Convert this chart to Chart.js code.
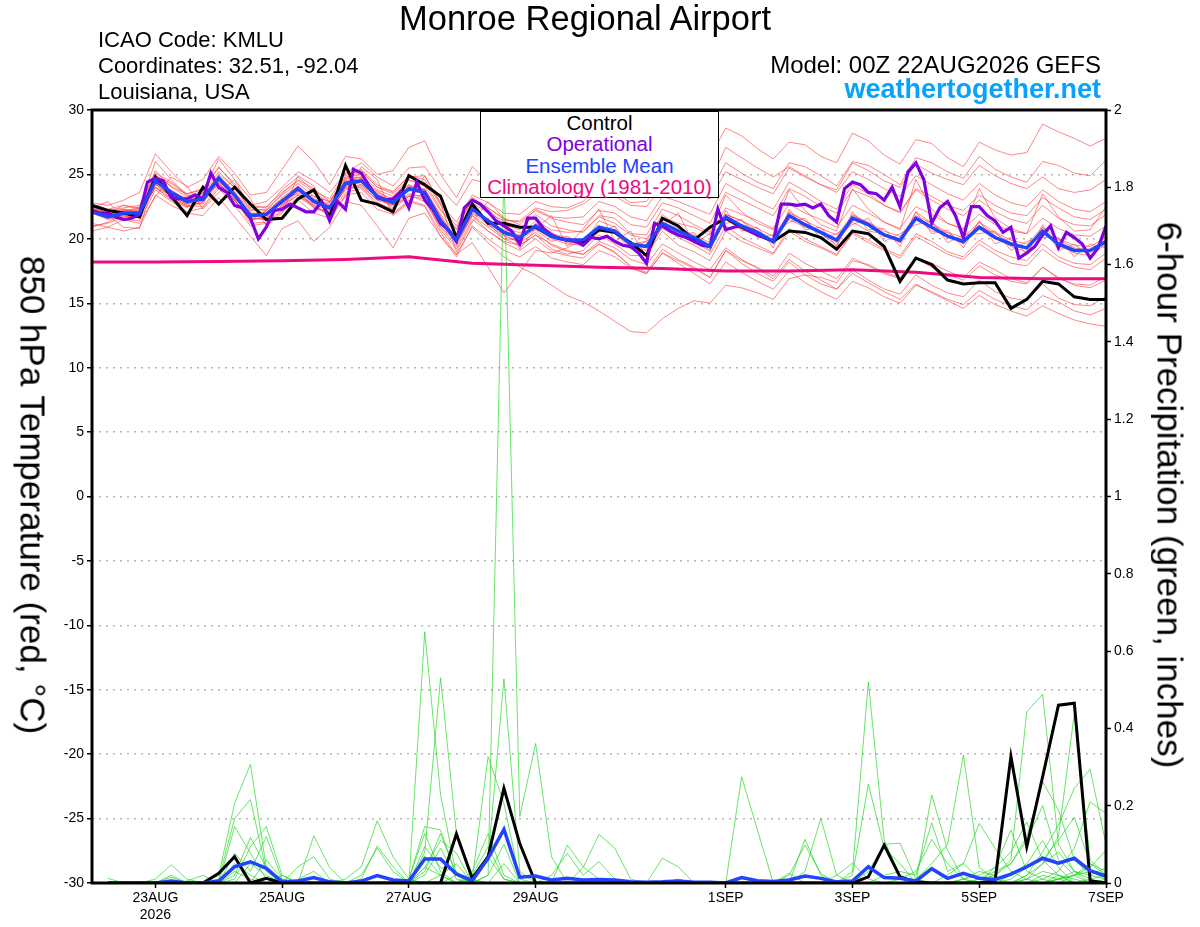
<!DOCTYPE html>
<html>
<head>
<meta charset="utf-8">
<title>Monroe Regional Airport</title>
<script src="https://cdn.jsdelivr.net/npm/chart.js@4.4.1/dist/chart.umd.min.js"></script>
<style>
  body { margin: 0; background: #fff; font-family: "Liberation Sans", Arial, sans-serif; }
  #page { position: relative; width: 1200px; height: 927px; overflow: hidden; }
  #page canvas { position: absolute; left: 0; top: 0; }
  .txt { position: absolute; white-space: nowrap; line-height: 1; color: #000; }
  .axis-title { position: absolute; white-space: nowrap; line-height: 1; font-size: 35px;
                transform: translate(-50%, -50%) rotate(90deg); }
  #legend { position: absolute; left: 480px; top: 111px; width: 237px; height: 85px;
            border: 1.5px solid #000; background: #fff; text-align: center;
            font-size: 20.5px; line-height: 21.3px; }
</style>
</head>
<body>
<div id="page">
  <canvas id="chart" width="1200" height="927"></canvas>

  <div class="txt" style="left:0;width:1170px;text-align:center;top:1px;font-size:34.5px;">Monroe Regional Airport</div>
  <div class="txt" style="left:98px;top:29px;font-size:22px;">ICAO Code: KMLU</div>
  <div class="txt" style="left:98px;top:55px;font-size:22px;">Coordinates: 32.51, -92.04</div>
  <div class="txt" style="left:98px;top:81px;font-size:22px;">Louisiana, USA</div>
  <div class="txt" style="right:99px;top:53px;font-size:24px;">Model: 00Z 22AUG2026 GEFS</div>
  <div class="txt" style="right:99px;top:76px;font-size:27px;font-weight:bold;color:#05a2ff;">weathertogether.net</div>

  <div class="axis-title" style="left:33px;top:495px;">850 hPa Temperature (red, °C)</div>
  <div class="axis-title" style="left:1170px;top:495px;">6-hour Precipitation (green, inches)</div>

  <div id="legend">
    <div style="color:#000">Control</div>
    <div style="color:#8000e0">Operational</div>
    <div style="color:#2244ff">Ensemble Mean</div>
    <div style="color:#ee0a80">Climatology (1981-2010)</div>
  </div>
</div>

<script>
// hours since 22AUG2026 00Z
const tickHours = [24, 72, 120, 168, 240, 288, 336, 384];
const tickLabels = [['23AUG', '2026'], '25AUG', '27AUG', '29AUG', '1SEP', '3SEP', '5SEP', '7SEP'];

// 850 hPa temperature, 6-hourly from 00Z 22AUG
const controlTemp = [
  22.6,22.2,22.0,21.7,24.8,23.3,21.8,24.0,22.7,24.0,
  22.7,21.5,21.6,23.1,23.8,21.7,25.7,23.0,22.7,22.1,
  24.9,24.2,23.3,20.1,22.7,21.2,21.2,20.9,20.9,20.2,
  19.9,19.8,20.7,20.5,19.7,18.7,21.6,21.0,19.9,20.9,
  21.6,20.9,20.3,19.8,20.6,20.5,20.1,19.2,20.6,20.4,
  19.4,16.7,18.5,18.0,16.8,16.5,16.6,16.6,14.6,15.3,
  16.7,16.5,15.5,15.3,15.3];
const meanTemp = [
  22.1,21.7,22.0,22.0,24.5,23.6,22.9,23.1,24.7,23.4,
  21.8,21.9,22.9,23.9,22.9,22.4,24.3,24.5,23.3,22.8,
  23.9,23.6,21.4,19.9,22.3,21.4,20.5,20.1,21.0,20.2,
  19.9,19.9,20.9,20.6,19.6,19.4,21.2,20.6,20.1,19.4,
  21.7,21.0,20.5,19.8,21.8,21.1,20.5,19.9,21.6,21.1,
  20.3,19.9,21.6,20.9,20.2,19.8,20.9,20.1,19.6,19.3,
  20.6,19.6,19.1,19.1,19.8];
// operational run, 3-hourly
const operTemp = [
  22.2,22.0,22.0,21.7,21.5,21.6,21.9,24.4,24.7,24.5,
  23.2,23.1,23.1,23.4,23.1,25.1,24.0,23.6,22.6,22.4,
  21.6,20.0,20.9,22.2,22.3,22.7,22.4,22.1,22.1,22.9,
  21.4,22.9,22.3,25.4,25.1,24.1,23.2,23.0,23.1,23.7,
  22.4,24.4,23.0,22.3,21.2,20.7,19.8,22.4,23.0,22.7,
  22.1,21.4,21.0,20.6,19.6,21.6,21.6,20.8,20.3,20.0,
  19.9,19.8,19.5,20.1,20.0,20.2,19.8,19.5,19.4,18.9,
  18.1,21.2,21.0,20.6,20.3,20.1,19.8,19.5,19.4,22.3,
  20.7,20.9,21.0,20.6,20.3,20.1,19.8,22.7,22.7,22.6,
  22.7,22.4,22.7,21.8,21.3,23.9,24.4,24.2,23.6,23.5,
  23.0,24.0,22.5,25.2,25.9,24.6,21.2,22.4,22.9,21.8,
  20.1,22.5,22.5,21.8,21.4,20.5,20.9,18.5,18.9,19.4,
  20.3,21.0,19.3,20.5,20.1,19.6,18.5,19.3,21.0];
// climatology, daily
const climTemp = [18.2,18.2,18.25,18.3,18.4,18.6,18.1,17.95,17.8,17.7,17.5,17.5,17.6,17.4,17.0,16.9,16.9];

// ensemble members, 6-hourly temperature
const t01 = [22.5,22.0,22.6,22.3,25.3,24.0,23.5,23.8,25.6,24.1,22.6,22.9,24.0,25.2,24.5,23.6,25.1,25.9,24.8,24.1,25.5,25.6,23.9,22.6,24.6,24.3,23.6,24.0,25.2,24.8,25.0,25.6,26.8,26.3,25.7,25.2,27.0,27.1,26.9,26.3,28.6,28.0,27.0,26.2,27.5,27.3,26.4,25.9,28.2,27.6,26.5,25.8,27.7,27.4,26.3,25.6,27.5,26.9,26.5,26.7,28.9,28.3,27.8,27.2,27.8];
const t02 = [22.3,21.9,22.1,22.5,24.9,24.3,23.4,23.3,25.0,24.0,22.3,22.2,23.5,24.6,23.9,22.9,24.6,25.3,24.0,23.7,24.8,24.9,22.7,21.3,23.4,22.8,22.0,21.9,22.9,22.5,22.4,22.9,24.1,23.6,22.8,22.9,24.6,24.5,24.0,23.6,25.9,25.1,24.4,23.9,25.9,25.6,24.9,24.1,26.0,25.7,25.0,24.2,26.3,25.9,25.2,24.7,26.4,25.4,24.8,24.4,26.0,25.7,25.1,24.9,26.1];
const t03 = [21.0,21.2,21.7,21.9,24.0,23.1,22.6,22.5,24.1,23.1,21.2,21.3,22.2,23.2,22.6,21.9,23.6,23.9,22.6,22.0,23.0,22.6,20.5,18.8,20.9,19.7,18.6,17.8,17.2,16.4,15.6,15.1,14.4,13.6,12.8,12.7,13.8,14.6,15.2,15.0,16.4,16.2,15.8,15.3,16.9,17.2,17.0,16.6,18.3,18.0,17.4,17.0,18.5,18.1,17.5,17.0,18.2,17.6,16.9,16.6,17.8,17.0,16.4,16.2,16.8];
const t04 = [22.0,21.6,21.8,21.7,24.2,23.4,22.5,22.9,24.4,23.0,21.6,21.5,22.6,23.6,22.5,22.0,24.0,24.1,23.0,22.6,23.5,23.2,21.0,19.6,21.8,20.9,20.0,19.5,20.3,19.6,19.1,18.8,19.8,19.3,18.4,18.0,19.6,18.9,18.2,17.6,19.3,18.4,17.7,16.9,18.4,17.5,16.8,16.1,17.3,16.6,15.9,15.3,16.5,15.8,15.2,14.6,15.6,14.9,14.4,14.0,14.8,14.2,13.7,13.4,13.2];
const t05 = [22.4,21.9,22.2,22.1,24.6,23.5,22.7,23.4,24.9,23.6,21.9,22.0,23.2,24.1,23.0,22.2,24.7,24.8,23.4,22.9,24.1,23.8,21.7,20.1,22.5,21.3,20.3,19.7,20.5,19.5,19.0,18.8,19.6,19.0,17.8,17.3,18.9,18.1,17.3,16.5,18.2,17.4,16.7,16.1,17.5,16.6,15.9,15.3,16.7,16.2,15.5,15.0,16.4,15.9,15.3,14.9,16.0,15.3,14.8,14.5,15.6,15.1,14.4,14.1,14.6];
const t06 = [22.6,22.2,22.4,22.6,25.1,24.4,23.5,23.9,25.5,24.3,22.6,22.4,23.8,24.8,23.7,23.1,25.1,25.2,24.0,23.5,24.6,24.1,22.2,20.7,23.1,22.4,21.5,21.3,22.2,21.6,21.3,21.1,22.2,22.0,21.1,20.9,22.8,22.4,21.8,21.2,23.6,23.0,22.4,21.8,23.9,23.3,22.5,22.0,23.8,23.3,22.6,22.1,23.9,23.3,22.6,22.2,23.4,22.6,22.0,21.8,23.2,22.4,21.7,21.5,22.3];
const t07 = [22.4,22.9,21.5,21.2,23.3,24.8,24.1,22.3,23.6,24.6,23.1,21.0,22.0,24.9,24.1,21.5,23.3,25.6,24.6,21.8,22.8,24.9,22.8,19.0,21.3,22.9,21.6,19.2,20.8,21.8,19.4,20.8,22.3,19.8,20.6,18.6,21.0,22.0,19.6,20.4,21.2,21.5,20.1,20.3,21.3,21.6,20.0,20.4,21.1,21.6,19.8,20.4,21.1,21.4,19.7,20.3,20.4,20.6,19.1,19.8,20.1,20.1,18.6,19.6,19.3];
const t08 = [22.3,21.8,20.9,20.8,24.7,23.2,22.7,23.6,24.4,23.0,21.4,22.2,23.1,23.5,22.7,22.8,24.5,24.2,23.0,23.2,24.2,23.3,21.1,20.3,22.6,21.0,20.7,20.5,20.7,19.8,20.2,19.5,20.5,21.0,19.3,19.8,20.8,20.2,20.5,19.0,22.2,20.6,20.9,19.3,22.3,20.7,20.9,19.4,22.1,20.7,20.8,19.4,22.1,20.4,20.7,19.3,21.4,19.6,20.1,18.8,21.1,19.1,19.6,18.6,20.3];
const t09 = [20.6,20.9,21.5,21.4,23.8,22.9,22.1,22.4,23.9,22.6,21.0,21.2,22.1,23.0,22.0,21.6,23.4,23.6,22.3,21.9,22.9,22.5,20.2,18.6,21.0,20.0,19.1,18.6,19.4,18.5,18.2,18.0,19.1,18.6,17.7,17.3,18.9,18.3,17.7,17.0,19.1,18.3,17.8,17.1,18.9,18.1,17.5,16.9,18.5,17.9,17.3,16.9,18.5,17.8,17.2,16.8,17.9,17.2,16.7,16.5,17.8,16.9,16.5,16.4,17.1];
const t10 = [22.8,22.6,23.0,23.6,26.6,25.2,24.0,24.6,26.4,25.1,23.4,23.6,25.4,27.2,26.0,24.2,26.4,26.2,25.0,25.3,27.1,27.6,25.0,23.2,25.6,24.4,23.7,23.5,24.6,24.0,23.8,24.3,25.4,24.9,24.1,24.0,25.6,25.2,24.6,24.4,27.1,26.3,25.5,24.8,25.6,24.9,24.2,23.6,25.2,24.6,23.9,23.3,24.9,24.2,23.5,23.0,24.3,23.4,22.8,22.5,23.8,22.9,22.3,22.1,22.9];
const t11 = [22.0,21.7,22.2,21.9,24.4,23.8,23.0,23.0,24.6,23.1,21.9,22.1,22.7,23.7,23.3,22.6,24.0,24.7,23.7,22.9,23.7,23.9,21.8,19.9,22.2,21.2,20.0,19.9,21.2,20.5,19.7,19.6,21.4,20.9,19.6,19.8,21.9,20.9,19.7,19.1,21.9,21.4,20.6,19.6,22.1,21.4,20.4,19.5,21.9,21.2,20.4,19.7,22.1,21.2,20.3,19.6,21.3,20.2,19.4,19.0,20.9,19.5,18.9,18.7,19.6];
const t12 = [20.9,21.3,21.9,22.3,24.3,23.1,22.4,23.3,24.2,23.2,22.0,21.4,22.6,23.4,22.6,22.3,23.8,24.2,23.3,22.4,23.4,22.9,20.9,19.4,21.8,20.6,19.8,19.5,20.3,19.2,18.8,19.1,20.3,19.6,18.7,18.7,20.6,19.5,19.0,18.3,20.6,19.8,19.3,18.8,20.6,19.8,19.3,18.7,20.4,19.7,19.1,18.5,20.2,19.5,18.8,18.4,19.6,18.8,18.1,17.9,19.2,18.3,17.8,17.6,18.5];
const t13 = [22.5,22.1,22.3,22.2,24.9,24.1,23.2,23.5,25.2,24.0,22.2,22.3,23.4,24.3,23.3,22.9,24.8,25.0,23.8,23.3,24.5,24.4,22.3,20.8,23.2,22.4,21.6,21.1,22.3,21.7,21.6,21.7,22.9,22.5,21.7,21.4,23.3,22.9,22.4,21.9,24.3,23.6,22.9,22.3,24.4,23.7,22.9,22.3,24.2,23.5,22.6,22.0,23.8,23.0,22.3,21.8,23.0,22.1,21.5,21.2,22.6,21.6,21.1,21.0,21.9];
const t14 = [22.2,21.8,21.9,22.0,24.0,23.4,22.8,22.7,24.8,23.5,21.5,21.7,23.0,23.8,22.4,21.9,24.1,24.6,23.1,22.6,23.3,23.4,21.2,19.7,21.9,21.6,20.6,20.3,21.4,20.7,20.5,20.6,21.7,21.2,20.3,20.0,21.7,21.2,20.9,20.3,22.4,21.9,21.4,20.8,22.7,22.0,21.5,20.9,22.6,22.0,21.3,20.8,22.5,21.9,21.2,20.8,21.9,21.1,20.6,20.4,21.6,20.8,20.3,20.2,21.0];
const t15 = [21.2,20.9,20.6,20.9,23.4,22.6,22.0,21.8,23.2,21.7,20.2,18.7,20.8,21.4,19.8,20.9,22.9,22.6,21.0,19.3,21.6,22.0,20.2,18.8,19.7,17.8,15.8,17.4,19.1,18.9,19.3,20.0,21.0,20.4,19.2,19.5,21.3,20.6,19.9,19.6,21.5,20.7,20.3,19.9,21.5,20.9,20.6,19.7,21.3,20.6,20.4,19.7,21.7,20.6,20.5,19.6,21.0,20.4,19.7,19.2,20.5,19.9,19.3,19.1,19.7];
const t16 = [22.4,22.0,22.0,22.4,24.7,23.7,23.1,23.2,24.6,23.5,21.9,21.9,23.1,24.0,23.1,22.5,24.4,24.7,23.6,23.1,24.2,23.8,21.9,20.4,22.8,22.0,21.4,21.4,22.4,22.1,22.2,22.7,23.6,23.3,22.6,22.5,24.1,23.9,23.6,23.1,25.2,24.6,24.0,23.5,25.5,24.8,24.2,23.8,25.9,25.3,24.5,24.0,25.8,25.1,24.6,24.2,25.7,24.9,24.3,23.9,24.8,23.9,23.6,23.8,24.6];
const t17 = [22.1,21.7,21.8,22.1,24.3,23.5,22.8,22.9,24.5,23.3,21.7,21.8,22.8,23.8,22.8,22.3,24.2,24.4,23.2,22.7,23.8,23.5,21.2,19.7,22.0,21.1,20.2,19.8,20.8,20.0,19.6,19.5,20.6,20.4,19.4,19.1,20.9,20.1,19.5,18.8,21.0,20.1,19.5,18.9,20.8,20.0,19.4,18.8,20.5,19.9,19.2,18.7,20.4,19.8,19.0,18.6,19.9,19.1,18.6,18.3,19.6,18.6,18.1,18.0,18.9];
const t18 = [22.7,22.3,22.6,22.4,26.0,24.6,23.3,23.7,26.2,24.6,22.4,22.5,23.6,24.5,23.6,22.8,24.9,25.4,24.2,23.6,24.9,24.6,22.6,21.0,23.0,22.3,21.1,20.7,21.9,21.0,20.7,20.5,21.8,21.6,20.4,20.3,22.3,21.8,21.1,20.5,23.4,22.1,21.2,20.7,23.8,22.2,21.1,20.6,23.9,22.3,21.3,20.7,24.6,22.3,21.2,20.7,23.9,21.6,20.8,20.4,23.5,21.7,20.6,20.7,22.5];
const t19 = [22.0,21.5,21.7,21.8,24.0,23.0,22.5,22.8,24.3,23.0,21.5,21.6,22.5,23.4,22.4,22.1,23.9,24.0,22.8,22.3,23.3,23.1,20.7,19.2,21.5,20.6,19.7,19.1,20.0,19.0,18.7,18.5,19.6,18.9,17.9,17.4,19.2,18.4,17.8,17.0,19.1,18.1,17.3,16.7,18.2,17.2,16.5,16.1,17.6,16.8,16.1,15.7,17.2,16.4,15.8,15.5,16.8,15.9,15.4,15.2,16.5,15.4,14.9,14.8,15.5];
const t20 = [22.3,21.9,22.3,22.0,24.8,23.7,22.6,23.2,24.9,23.7,22.1,21.6,22.9,24.1,23.1,22.6,24.5,24.8,23.5,22.9,24.0,23.8,21.6,20.0,22.4,21.3,20.3,20.2,21.1,20.4,20.1,19.8,20.9,20.7,19.7,19.5,21.3,20.8,20.3,19.7,21.9,21.4,20.8,20.2,22.0,21.4,20.8,20.3,21.8,21.3,20.6,20.2,21.8,21.2,20.5,20.1,21.3,20.5,19.9,19.6,20.9,20.0,19.5,19.4,20.1];
const tempMembers = [t01,t02,t03,t04,t05,t06,t07,t08,t09,t10,t11,t12,t13,t14,t15,t16,t17,t18,t19,t20];

// 6-hour precipitation (inches), periods ending 06Z 22AUG .. 00Z 7SEP
const controlPrecip = [
  0,0,0,0,0,0,0,.025,.068,0,
  .012,0,0,0,0,0,0,0,0,0,
  0,0,.127,.012,.068,.245,.102,0,0,0,
  0,0,0,0,0,0,0,0,0,0,
  0,0,0,0,0,0,0,0,.016,.098,
  .016,.003,0,0,0,0,.006,.327,.094,.275,
  .46,.465,.006,0];
const meanPrecip = [
  0,0,0,0,.005,0,0,.005,.042,.055,
  .038,.003,.005,.014,.003,0,.005,.019,.008,.005,
  .062,.062,.023,.006,.064,.139,.015,.018,.008,.012,
  .008,.009,.008,.003,.002,.003,.005,.002,.002,0,
  .014,.006,.004,.008,.018,.012,.003,.005,.042,.014,
  .012,.005,.037,.012,.025,.012,.009,.023,.042,.064,
  .051,.064,.032,.018];
const p01 = [.012,0,0,0,0,0,0,0, 0,0,0,0,0,0,0,0, 0,0,0,0,.03,.128,.02,0, 0,0,0,0,0,0,0,0, 0,0,0,0,0,0,0,0, 0,0,0,0,0,0,0,0, 0,0,0,0,0,0,0,.01, .02,.06,.443,.488,.1,.03,.01,0];
const p02 = [0,0,0,.01,.047,.01,0,0, 0,0,0,0,0,.122,.04,0, 0,0,0,0,0,0,0,0, 0,0,0,0,0,.098,.042,.01, 0,0,0,0,0,0,0,0, 0,0,0,0,0,0,0,0, 0,0,0,0,0,0,.01,.02, .04,.08,.158,.06,.02,0,.01,.02];
const p03 = [0,0,0,0,.02,0,0,0, 0,0,0,0,0,0,0,0, .02,.09,.03,0,0,0,0,.008, 0,0,0,0,0,0,.04,.126, .09,.01,0,0,0,0,0,0, 0,0,0,0,0,0,0,0, 0,0,0,0,0,0,0,.01, .03,.05,.11,.2,.06,.02,0,0];
const p04 = [0,0,0,0,.015,0,0,0, 0,0,0,0,.01,.03,0,0, 0,0,0,0,0,0,0,0, 0,0,0,0,0,0,0,0, 0,0,0,.064,.042,0,0,0, 0,0,0,0,0,0,0,0, 0,0,0,0,0,0,.01,.03, .02,.05,.12,.262,.189,.06,.02,.01];
const p05 = [0,0,0,0,0,.005,.02,0, 0,0,0,0,0,0,0,0, 0,0,0,0,0,0,0,.03, .128,.02,0,0,0,0,0,0, 0,0,0,0,0,0,0,0, .275,.137,0,0,0,0,0,0, 0,0,0,0,0,0,0,0, 0,.02,.05,.11,.04,0,0,0];
const p06 = [0,0,0,0,0,0,0,.02, .206,.307,.04,0,0,0,0,0, 0,0,0,0,.65,.228,.02,0, 0,0,0,0,0,0,0,0, 0,0,0,0,0,0,0,0, 0,0,0,.025,0,0,0,0, 0,0,0,0,0,0,0,0, 0,.01,.04,.06,.111,.17,.05,.02];
const p07 = [0,0,0,0,0,0,0,.01, .167,.216,.03,0,0,0,0,0, 0,0,0,0,.094,.04,.03,0, 0,0,0,0,0,0,0,0, 0,0,0,0,0,0,0,0, 0,0,0,0,.113,.02,0,0, 0,0,0,0,0,0,0,0, 0,0,.02,.05,.08,.03,0,0];
const p08 = [0,0,0,0,0,0,0,0, .146,.077,.01,0,0,0,0,0, 0,0,0,0,0,0,.02,.01, .327,.206,.01,0,0,0,0,0, 0,0,0,0,0,0,0,0, 0,0,0,.02,.098,.025,0,0, 0,0,0,0,0,0,0,0, 0,0,0,.02,.01,0,0,0];
const p09 = [0,0,0,0,0,0,0,0, .077,.03,.12,.01,0,0,0,0, 0,0,0,0,.04,.11,.077,0, 0,0,0,0,0,0,0,0, 0,0,0,0,0,0,0,0, 0,0,0,0,.03,.167,.02,0, 0,0,0,0,0,0,0,0, 0,0,.01,.05,.12,.439,.06,.02];
const p10 = [0,0,0,0,0,0,0,0, .05,.02,0,0,0,0,0,0, 0,0,0,0,.04,.02,0,0, 0,.05,0,0,0,0,0,0, 0,0,0,0,0,0,0,0, 0,0,0,0,0,0,.02,.051, .01,0,0,0,0,0,0,0, 0,0,.02,.08,.15,.245,.294,.1];
const p11 = [0,0,0,0,0,0,0,0, .03,.01,0,.02,0,0,0,0, 0,0,0,0,0,0,0,.02, .094,.01,0,0,0,0,0,0, 0,0,0,0,0,0,0,0, 0,0,0,0,0,0,0,.03, .52,.111,.02,0,0,0,0,0, 0,0,0,.01,.03,.09,.21,.18];
const p12 = [0,0,0,0,0,0,0,0, .02,.118,.04,0,0,0,0,0, 0,0,0,0,.08,.531,.128,.01, 0,0,0,0,0,0,0,0, 0,0,0,0,0,0,0,0, 0,0,0,0,0,0,0,.02, .256,.09,.05,0,0,0,0,0, 0,0,0,0,.01,.02,.05,.03];
const p13 = [0,0,0,0,0,0,0,0, .01,.094,.146,.02,0,0,0,0, 0,0,0,.01,.128,.03,0,0, 0,0,0,0,0,0,0,0, 0,0,0,0,0,0,0,0, 0,0,0,0,0,0,0,0, .03,.1,.103,.01,0,0,0,0, 0,0,0,0,.01,.02,.04,.085];
const p14 = [0,0,0,0,0,0,0,0, 0,.05,.02,0,0,0,0,0, 0,0,0,0,.02,.09,.01,0, .02,.1,0,0,0,0,0,0, 0,0,0,0,0,0,0,0, 0,0,0,0,0,0,0,0, 0,0,0,0,.228,.085,.01,0, 0,0,0,0,.01,.03,.02,.04];
const p15 = [0,0,0,0,0,0,0,0, 0,0,.06,.01,0,0,0,0, 0,0,0,0,0,.02,.05,0, .02,1.85,.172,.361,.068,0,0,0, 0,0,0,0,0,0,0,0, 0,0,0,0,0,0,0,0, 0,0,0,0,0,0,0,0, 0,0,0,0,.02,.01,0,0];
const p16 = [0,0,0,0,0,0,0,0, 0,0,0,0,.042,.068,.01,0, 0,0,0,0,0,0,0,.01, .06,.528,.03,0,0,0,0,0, 0,0,0,0,0,0,0,0, 0,0,0,0,0,0,0,0, 0,.02,.03,.02,.156,.03,.051,.01, 0,0,0,0,0,0,0,0];
const p17 = [0,0,0,0,0,0,0,0, 0,0,0,0,0,0,0,.01, .042,.161,.068,.01,0,0,0,0, 0,0,0,0,0,0,0,0, 0,0,0,0,0,0,0,0, 0,0,0,0,0,0,0,0, 0,0,.01,.03,.113,.05,.01,0, 0,0,.01,.03,.02,0,0,0];
const p18 = [0,0,0,0,0,0,0,0, 0,0,0,0,0,0,0,0, .01,.096,.042,0,0,0,0,0, 0,0,0,0,.02,.077,.02,.055, .01,0,0,0,0,0,0,0, 0,0,0,0,0,0,0,0, 0,0,0,.01,.05,.1,.331,.04, .01,0,0,0,0,0,0,0];
const p19 = [0,0,0,0,0,0,0,0, 0,0,0,0,0,0,0,0, 0,0,0,.01,.146,.137,.02,0, 0,0,0,0,0,0,0,0, 0,0,0,0,0,0,0,0, 0,0,0,0,0,0,0,0, 0,0,0,0,0,.02,.05,.154, .09,.03,.01,0,0,.02,.03,.01];
const p20 = [0,0,0,0,0,0,0,0, 0,0,0,0,0,0,0,0, 0,0,0,0,.07,.02,0,0, .068,.01,0,0,0,0,0,0, 0,0,0,0,.01,0,0,0, 0,0,0,0,0,0,0,0, 0,0,0,0,0,0,0,0, .042,.137,.03,.01,0,0,0,.01];
const precipMembers = [p01,p02,p03,p04,p05,p06,p07,p08,p09,p10,p11,p12,p13,p14,p15,p16,p17,p18,p19,p20];

const BLACK = '#000000';
const PURPLE = '#8000e0';
const BLUE = '#2244ff';
const MAGENTA = '#ee0a80';
const RED_MEMBER = 'rgba(255,55,55,0.75)';
const GREEN_MEMBER = 'rgba(30,215,30,0.85)';
const TICK_FONT = { family: '"Liberation Sans", Arial, sans-serif', size: 14 };

// values -> {x: hours, y: value}
const toPoints = (vals, step, first) => vals.map((v, i) => ({ x: first + i * step, y: v }));

const line = (label, data, color, width, axis, order) => ({
  label, data, borderColor: color, borderWidth: width, yAxisID: axis, order
});

const datasets = [
  line('Ensemble Mean', toPoints(meanTemp, 6, 0), BLUE, 3.5, 'y', 0),
  line('Operational', toPoints(operTemp, 3, 0), PURPLE, 3.2, 'y', 1),
  line('Control', toPoints(controlTemp, 6, 0), BLACK, 3, 'y', 2),
  line('Climatology (1981-2010)', toPoints(climTemp, 24, 0), MAGENTA, 3, 'y', 3),
  line('Ensemble Mean precip', toPoints(meanPrecip, 6, 6), BLUE, 3.5, 'y1', 0),
  line('Control precip', toPoints(controlPrecip, 6, 6), BLACK, 3, 'y1', 2)
];
tempMembers.forEach((m, n) => datasets.push(line('Member ' + (n + 1), toPoints(m, 6, 0), RED_MEMBER, 0.8, 'y', 9)));
precipMembers.forEach((m, n) => datasets.push(line('Member precip ' + (n + 1), toPoints(m, 6, 6), GREEN_MEMBER, 0.8, 'y1', 8)));

// black frame round the plot
const frame = {
  id: 'frame',
  afterDatasetsDraw(chart) {
    const { ctx, chartArea: a } = chart;
    ctx.save();
    ctx.strokeStyle = BLACK;
    ctx.lineWidth = 3;
    ctx.strokeRect(a.left, a.top, a.right - a.left, a.bottom - a.top);
    ctx.restore();
  }
};

new Chart(document.getElementById('chart'), {
  type: 'line',
  data: { datasets },
  plugins: [frame],
  options: {
    responsive: false,
    animation: false,
    devicePixelRatio: 1,
    events: [],
    layout: { padding: { top: 110, left: 0, right: 0, bottom: 0 } },
    elements: {
      point: { radius: 0 },
      line: { tension: 0, fill: false }
    },
    plugins: { legend: { display: false }, tooltip: { enabled: false } },
    scales: {
      x: {
        type: 'linear',
        min: 0,
        max: 384,
        afterBuildTicks: s => { s.ticks = tickHours.map(v => ({ value: v })); },
        afterFit: s => { s.height = 44; },
        ticks: {
          autoSkip: false, maxRotation: 0, padding: 2, color: BLACK, font: TICK_FONT,
          callback: v => tickLabels[tickHours.indexOf(v)]
        },
        grid: { drawOnChartArea: false, tickLength: 5, tickColor: BLACK, tickWidth: 1.5 },
        border: { display: false }
      },
      y: {
        position: 'left',
        min: -30,
        max: 30,
        afterFit: s => { s.width = 92; },
        ticks: { stepSize: 5, padding: 3, color: BLACK, font: TICK_FONT },
        grid: { color: '#b4b4b4', lineWidth: 1.5, tickLength: 5, tickColor: BLACK, tickWidth: 1.5 },
        border: { display: false, dash: [2, 5] }
      },
      y1: {
        position: 'right',
        min: 0,
        max: 2,
        afterFit: s => { s.width = 94; },
        ticks: {
          stepSize: 0.2, padding: 3, color: BLACK, font: TICK_FONT,
          callback: v => String(Math.round(v * 10) / 10)
        },
        grid: { drawOnChartArea: false, tickLength: 5, tickColor: BLACK, tickWidth: 1.5 },
        border: { display: false }
      }
    }
  }
});
</script>
</body>
</html>
